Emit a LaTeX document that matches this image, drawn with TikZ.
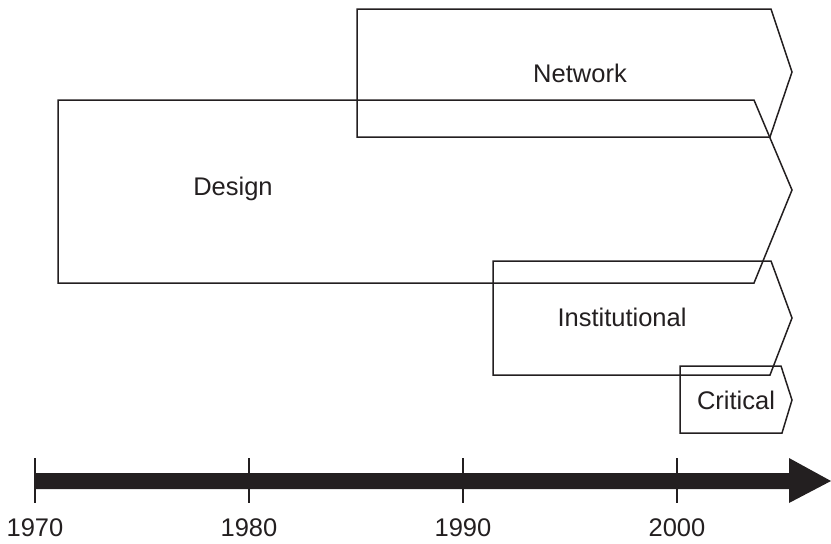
\documentclass[tikz,border=0pt]{standalone}
\usepackage{fontspec}
\setmainfont{Liberation Sans}
\definecolor{ink}{HTML}{231F20}
\begin{document}
\begin{tikzpicture}[x=1pt,y=-1pt,
  phase/.style={draw=ink,line width=1.5pt,line join=miter},
  lbl/.style={text=ink,font=\fontsize{25.5}{30}\selectfont,inner sep=0pt},
  tick/.style={draw=ink,line width=1.6pt}]
\useasboundingbox (0,0) rectangle (831,544);
% phases
\draw[phase] (357,9) -- (771,9) -- (792,72) -- (770,137) -- (357,137) -- cycle;
\draw[phase] (58,100) -- (754,100) -- (792,190) -- (754,283) -- (58,283) -- cycle;
\draw[phase] (493,261) -- (771,261) -- (792,318) -- (770,375) -- (493,375) -- cycle;
\draw[phase] (680,366) -- (781,366) -- (792,400) -- (782,433) -- (680,433) -- cycle;
\node[lbl] (network) at (580,73) {Network};
\node[lbl] (design) at (233,189) {Design};
\node[lbl] (inst) at (622,317) {Institutional};
\node[lbl] (critical) at (736,400) {Critical};
% timeline
\coordinate (tstart) at (35,481);
\coordinate (tend) at (831,481);
\fill[ink] (35,473) -- (789,473) -- (789,458) -- (831,481) -- (789,503) -- (789,489) -- (35,489) -- cycle;
\foreach \x/\y in {35/1970,249/1980,463/1990,677/2000}{
  \draw[tick] (\x,458) -- (\x,503);
  \node[lbl] (y\y) at (\x,528) {\y};
}
\end{tikzpicture}
\end{document}
